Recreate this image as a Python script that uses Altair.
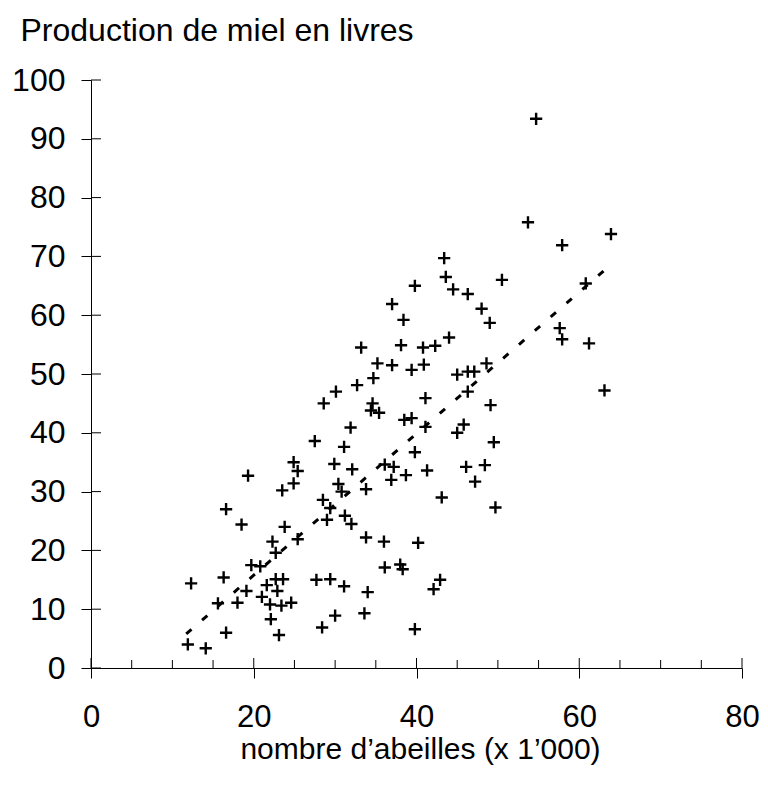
import altair as alt
import pandas as pd

# Bees (x 1'000) and honey production (lb)
bees = [11.9, 14.1, 16.6, 12.3, 16.3, 15.6, 18.0, 19.1, 16.6, 18.5,
        23.5, 23.8, 22.3, 22.7, 19.7, 20.8, 22.7, 23.6, 21.6, 22.9,
        21.0, 22.0, 23.4, 24.6, 22.1, 23.1, 19.3, 24.9, 30.4, 30.8,
        33.8, 36.9, 47.2, 43.1, 28.5, 29.4, 29.0, 31.2, 32.0, 25.4,
        33.8, 36.0, 40.2, 36.1, 38.0, 38.3, 42.9, 42.1, 27.7, 29.4,
        31.1, 34.0, 30.0, 33.6, 28.4, 39.8, 49.7, 39.8, 37.2, 36.1,
        38.7, 41.3, 46.1, 48.4, 45.0, 49.5, 49.1, 37.0, 33.2, 35.2,
        37.0, 34.7, 32.7, 30.1, 28.6, 34.6, 34.4, 35.4, 31.9, 27.5,
        31.1, 29.9, 32.1, 24.9, 25.4, 57.9, 43.4, 43.6, 39.8, 50.5,
        44.5, 46.3, 48.0, 38.4, 49.0, 57.6, 57.9, 44.0, 38.1, 40.8,
        42.3, 39.4, 40.9, 48.6, 45.0, 46.3, 47.1, 46.3, 41.1, 39.4,
        38.5, 41.1, 45.8, 54.7, 53.7, 63.9, 60.8, 61.2, 63.1]
honey = [4.0, 3.35, 6.0, 14.4, 15.4, 11.0, 11.1, 13.1, 27.0, 24.4,
         30.2, 24.0, 21.5, 19.6, 17.5, 17.3, 15.1, 15.1, 14.1, 13.1,
         12.1, 10.8, 10.6, 11.1, 8.3, 5.6, 32.7, 31.4, 31.3, 30.0,
         30.4, 32.0, 31.7, 29.0, 28.6, 27.2, 25.2, 25.9, 24.5, 21.9,
         22.2, 21.5, 21.3, 17.1, 17.6, 16.8, 15.0, 13.4, 15.0, 15.1,
         13.9, 12.9, 8.9, 9.3, 6.9, 6.6, 27.3, 36.7, 34.2, 34.6,
         32.8, 33.6, 34.2, 34.5, 40.0, 38.4, 44.7, 61.9, 54.5, 51.8,
         51.5, 49.3, 48.1, 47.0, 45.0, 45.0, 43.8, 43.4, 40.9, 38.6,
         37.6, 34.7, 33.8, 35.0, 33.5, 71.9, 69.7, 66.5, 65.0, 66.0,
         64.4, 63.6, 61.1, 59.2, 58.7, 57.8, 55.9, 56.2, 54.9, 54.5,
         54.8, 50.7, 51.6, 51.8, 49.9, 50.4, 50.4, 47.0, 45.9, 42.5,
         42.2, 41.0, 41.4, 93.4, 75.8, 73.8, 65.4, 55.2, 47.2]

# Regression line end points
trend_x = [11.7, 63.8]
trend_y = [5.8, 68.5]

# Tick values
x_major = [0, 20, 40, 60, 80]
x_minor = [5, 10, 15, 25, 30, 35, 45, 50, 55, 65, 70, 75]
y_major = [0, 10, 20, 30, 40, 50, 60, 70, 80, 90, 100]

W, H = 651, 588
FONT = "Liberation Sans"

pts = pd.DataFrame({"bees": bees, "honey": honey})
trend = pd.DataFrame({"bees": trend_x, "honey": trend_y})
xmaj = pd.DataFrame({"bees": x_major})
xmin = pd.DataFrame({"bees": x_minor})
ymaj = pd.DataFrame({"honey": y_major})

xs = alt.Scale(domain=[0, 80], nice=False, zero=False)
ys = alt.Scale(domain=[0, 100], nice=False, zero=False)

x_axis = alt.Axis(
    values=x_major, tickSize=10, tickColor="black", domainColor="black",
    labelFont=FONT, labelFontSize=31, labelColor="black", labelPadding=24,
    labelFlush=False, labelOverlap=False,
    title="nombre d’abeilles (x 1’000)", titleFont=FONT, titleFontSize=30,
    titleFontWeight="normal", titleColor="black",
    titleX=329, titleY=90, titleAlign="center", titleBaseline="alphabetic",
    grid=False)
y_axis = alt.Axis(
    values=y_major, tickSize=10, tickColor="black", domainColor="black",
    labelFont=FONT, labelFontSize=32, labelColor="black", labelPadding=16,
    labelFlush=False, labelOverlap=False,
    title="Production de miel en livres", titleFont=FONT, titleFontSize=32,
    titleFontWeight="normal", titleColor="black", titleAngle=0,
    titleX=-71, titleY=-40, titleAlign="left", titleBaseline="alphabetic",
    grid=False)

points = alt.Chart(pts).mark_point(
    shape="M-1,0L1,0M0,-1L0,1", size=150, filled=False,
    strokeWidth=2.4, color="black", opacity=1
).encode(
    x=alt.X("bees:Q", scale=xs, axis=x_axis),
    y=alt.Y("honey:Q", scale=ys, axis=y_axis),
)

line = alt.Chart(trend).mark_line(
    color="black", strokeWidth=3, strokeDash=[7, 14]
).encode(
    x=alt.X("bees:Q", scale=xs, axis=x_axis),
    y=alt.Y("honey:Q", scale=ys, axis=y_axis),
)

y_in = alt.Chart(ymaj).mark_rule(color="black", strokeWidth=1).encode(
    y=alt.Y("honey:Q", scale=ys, axis=y_axis),
    x=alt.value(0), x2=alt.value(10),
)
x_in_major = alt.Chart(xmaj).mark_rule(color="black", strokeWidth=1).encode(
    x=alt.X("bees:Q", scale=xs, axis=x_axis),
    y=alt.value(H - 10), y2=alt.value(H),
)
x_in_minor = alt.Chart(xmin).mark_rule(color="black", strokeWidth=1).encode(
    x=alt.X("bees:Q", scale=xs, axis=x_axis),
    y=alt.value(H - 8), y2=alt.value(H),
)

chart = alt.layer(points, line, y_in, x_in_major, x_in_minor).properties(
    width=W, height=H, background="white",
    padding={"left": 83, "top": 72, "right": 18, "bottom": 100},
    autosize=alt.AutoSizeParams(type="none"),
).configure_view(strokeWidth=0)

chart.save("out.html", embed_options={"renderer": "svg", "actions": False})
